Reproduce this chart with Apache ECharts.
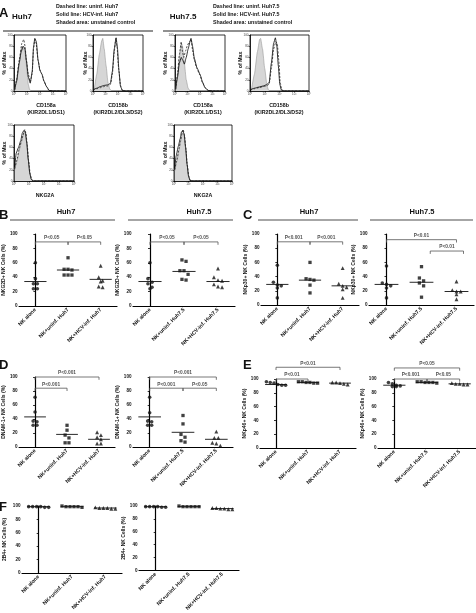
<!DOCTYPE html>
<html>
<head>
<meta charset="utf-8">
<script src="https://cdn.jsdelivr.net/npm/echarts@6/dist/echarts.min.js"></script>
<style>
html, body { margin: 0; padding: 0; background: #fff; }
#chart { width: 476px; height: 613px; }
</style>
</head>
<body>
<div id="chart"></div>
<script>
// ---- data ----
const catsHuh7 = ['NK alone', 'NK+uninf. Huh7', 'NK+HCV-inf. Huh7']
const catsHuh75 = ['NK alone', 'NK+uninf. Huh7.5', 'NK+HCV-inf. Huh7.5']
const decadeLabels = ['10⁰', '10¹', '10²', '10³', '10⁴']

// panel A histograms: [log10 intensity, % of max]
const cd158aHuh7Ctrl = [[0.05,2],[0.2,15],[0.35,40],[0.5,65],[0.6,80],[0.7,74],[0.8,78],[0.9,60],[1.0,35],[1.1,12],[1.2,3],[1.3,0]]
const cd158aHuh7Uninf = [[0.05,2],[0.2,20],[0.4,55],[0.6,85],[0.75,92],[0.85,80],[0.95,55],[1.1,30],[1.25,16],[1.4,30],[1.5,75],[1.6,92],[1.7,85],[1.85,55],[2.0,38],[2.15,30],[2.3,18],[2.5,8],[2.7,1],[3.0,0],[4,0]]
const cd158aHuh7Hcv = [[0.05,2],[0.2,18],[0.4,50],[0.55,70],[0.7,80],[0.85,75],[0.95,55],[1.1,25],[1.25,14],[1.4,35],[1.5,78],[1.6,94],[1.72,88],[1.85,55],[2.0,36],[2.15,30],[2.3,18],[2.5,8],[2.7,1],[3.0,0],[4,0]]
const cd158bHuh7Ctrl = [[0.1,3],[0.3,30],[0.5,65],[0.7,90],[0.78,94],[0.9,75],[1.05,45],[1.2,15],[1.35,3],[1.5,0]]
const cd158bHuh7Uninf = [[0,2],[0.3,4],[0.6,6],[0.9,8],[1.2,9],[1.4,12],[1.55,30],[1.7,70],[1.82,94],[1.92,80],[2.05,40],[2.2,10],[2.35,1],[2.6,0],[4,0]]
const cd158bHuh7Hcv = [[0,2],[0.3,5],[0.6,8],[0.9,10],[1.2,11],[1.4,14],[1.55,35],[1.7,75],[1.85,95],[1.95,78],[2.08,35],[2.2,8],[2.35,1],[2.6,0],[4,0]]
const cd158aHuh75Ctrl = [[0.05,2],[0.2,25],[0.35,60],[0.5,85],[0.6,80],[0.75,50],[0.9,20],[1.05,5],[1.2,0]]
const cd158aHuh75Uninf = [[0.05,3],[0.2,30],[0.35,65],[0.5,88],[0.6,70],[0.7,60],[0.85,72],[1.0,82],[1.15,88],[1.3,92],[1.42,70],[1.55,55],[1.75,40],[2.0,28],[2.2,15],[2.4,6],[2.65,1],[3,0],[4,0]]
const cd158aHuh75Hcv = [[0.05,3],[0.2,25],[0.35,50],[0.5,60],[0.62,55],[0.75,48],[0.9,60],[1.05,75],[1.2,88],[1.28,94],[1.4,80],[1.55,58],[1.75,42],[2.0,30],[2.2,16],[2.4,6],[2.65,1],[3,0],[4,0]]
const cd158bHuh75Ctrl = [[0.1,3],[0.3,30],[0.5,70],[0.65,92],[0.72,94],[0.85,75],[1.0,40],[1.15,10],[1.25,2],[1.35,0]]
const cd158bHuh75Uninf = [[0,2],[0.3,4],[0.6,6],[0.9,8],[1.1,9],[1.3,12],[1.45,40],[1.6,75],[1.75,88],[1.85,85],[1.95,55],[2.05,15],[2.15,2],[2.3,0],[4,0]]
const cd158bHuh75Hcv = [[0,2],[0.3,5],[0.6,7],[0.9,9],[1.1,11],[1.3,15],[1.45,50],[1.6,85],[1.72,95],[1.82,80],[1.92,45],[2.02,12],[2.12,2],[2.3,0],[4,0]]
const nkg2aHuh7Ctrl = [[0.05,20],[0.2,35],[0.35,55],[0.5,70],[0.6,80],[0.7,88],[0.78,85],[0.85,70],[0.95,40],[1.05,15],[1.15,3],[1.25,0]]
const nkg2aHuh7Uninf = [[0.05,22],[0.2,38],[0.35,58],[0.5,72],[0.6,82],[0.72,92],[0.8,85],[0.88,65],[0.98,35],[1.08,12],[1.18,2],[1.3,0],[4,0]]
const nkg2aHuh7Hcv = [[0.05,25],[0.15,50],[0.3,60],[0.45,72],[0.55,85],[0.65,90],[0.75,88],[0.85,68],[0.95,38],[1.05,14],[1.15,3],[1.3,0],[4,0]]
const nkg2aHuh75Ctrl = [[0.05,18],[0.2,35],[0.35,55],[0.45,70],[0.55,82],[0.62,86],[0.7,80],[0.8,60],[0.9,30],[1.0,10],[1.1,2],[1.2,0]]
const nkg2aHuh75Uninf = [[0.05,20],[0.2,38],[0.35,58],[0.45,72],[0.55,85],[0.63,92],[0.72,82],[0.82,58],[0.92,28],[1.02,8],[1.12,1],[1.25,0],[4,0]]
const nkg2aHuh75Hcv = [[0.05,22],[0.15,45],[0.3,62],[0.42,75],[0.52,88],[0.6,90],[0.7,84],[0.8,60],[0.9,30],[1.0,9],[1.1,1],[1.25,0],[4,0]]

// panels B-F: % positive NK cells per donor, [NK alone, NK+uninf, NK+HCV-inf]
const nkg2dHuh7 = [[60,38,31,31,24,24],[67,51,51,50,43,43,43],[56,40,35,34,27,26]]
const nkg2dHuh7Med = [34,50,37]
const nkg2dHuh75 = [[60,38,33,31,26,24],[64,62,49,49,44,37,36],[52,40,36,35,30,27,26]]
const nkg2dHuh75Med = [34,48,34]
const nkp30Huh7 = [[56,32,28,27,24,10],[60,37,36,35,28,17],[52,30,27,25,22,10]]
const nkp30Huh7Med = [29,35,27]
const nkp30Huh75 = [[55,31,29,27,24,10],[54,38,34,31,27,11],[33,21,19,19,15,8]]
const nkp30Huh75Med = [29,32,19]
const dnamHuh7 = [[71,50,37,36,31,31],[31,24,17,13,6,6],[21,17,14,11,5,5]]
const dnamHuh7Med = [43,18,11]
const dnamHuh75 = [[71,49,37,36,31,31],[45,33,18,14,9,7],[22,13,13,6,5,2]]
const dnamHuh75Med = [43,21,11]
const nkp46Huh7 = [[94,95,91,91,92,96],[96,95,94,94,95,96],[95,93,92,94,95]]
const nkp46Huh7Med = [92,95,94]
const nkp46Huh75 = [[90,89,95,89,93,91],[96,95,94,95,95,96],[93,92,92,93,94]]
const nkp46Huh75Med = [91,95,93]
const b2b4Huh7 = [[99,98,99,98,99,99],[99,98,99,99,99,100],[97,96,97,96,97,98]]
const b2b4Huh7Med = [99,99,97]
const b2b4Huh75 = [[99,98,99,98,99,99],[99,99,99,100,99,99],[97,95,96,95,96,97]]
const b2b4Huh75Med = [99,99,96]

// significance brackets: [from group, to group, level, text]
const nkg2dHuh7Sig = [[0,1,89,'P<0.05'],[1,2,89,'P<0.05']]
const nkg2dHuh75Sig = [[0,1,89,'P<0.05'],[1,2,89,'P<0.05']]
const nkp30Huh7Sig = [[0,1,89,'P<0.001'],[1,2,89,'P<0.001']]
const nkp30Huh75Sig = [[0,2,92,'P<0.01'],[1.25,2.2,76,'P<0.01']]
const dnamHuh7Sig = [[0,2,100,'P<0.001'],[0,1,84,'P<0.001']]
const dnamHuh75Sig = [[0,2,100,'P<0.001'],[0,1,84,'P<0.001'],[1,2,84,'P<0.05']]
const nkp46Huh7Sig = [[0,2,117,'P<0.01'],[0,1,100,'P<0.01']]
const nkp46Huh75Sig = [[0,2,116,'P<0.05'],[0,1,100,'P<0.001'],[1,2,100,'P<0.05']]

// ---- chart building ----
const FONT = '"Liberation Sans", Arial, sans-serif'
const INK = '#111'
const grids = [], xAxes = [], yAxes = [], series = [], graphics = []

const histPanel = (box, ctrl, uninf, hcv) => {
  const g = grids.length
  grids.push({ left: box[0], top: box[1], width: box[2], height: box[3], show: true, borderColor: '#000', borderWidth: 0.8 })
  const xi = xAxes.length, yi = yAxes.length
  xAxes.push({
    gridIndex: g, type: 'value', min: 0, max: 4, interval: 1,
    axisLine: { show: true, lineStyle: { color: '#000', width: 0.8 } },
    axisTick: { length: 1.5, lineStyle: { color: '#000', width: 0.6 } },
    axisLabel: { fontSize: 3, margin: 1.5, color: '#444', fontFamily: FONT, formatter: v => decadeLabels[v] },
    splitLine: { show: false }
  })
  yAxes.push({
    gridIndex: g, type: 'value', min: 0, max: 100, interval: 20,
    axisLine: { show: true, lineStyle: { color: '#000', width: 0.8 } },
    axisTick: { show: true, length: 1.5, lineStyle: { color: '#000', width: 0.6 } },
    axisLabel: { fontSize: 3, margin: 1.5, color: '#444', fontFamily: FONT },
    splitLine: { show: false }
  })
  const base = { type: 'line', xAxisIndex: xi, yAxisIndex: yi, symbol: 'none', smooth: 0.15, smoothMonotone: 'x', silent: true }
  series.push({ ...base, data: ctrl, lineStyle: { color: '#888', width: 0.5 }, areaStyle: { color: '#d6d6d6', opacity: 1 }, z: 1 })
  series.push({ ...base, data: uninf, lineStyle: { color: '#222', width: 0.8, type: [2, 1.5] }, z: 3 })
  series.push({ ...base, data: hcv, lineStyle: { color: '#000', width: 0.8 }, z: 2 })
}

// Prism-like scatter: values closer than one dot height share a row, rows are centred on the group
const ROW_GAP = 5.5
const spread = vals => {
  const order = vals.map((v, j) => j).sort((a, b) => vals[b] - vals[a])
  const rows = []
  order.forEach(j => {
    const row = rows[rows.length - 1]
    if (row && vals[row[0]] - vals[j] < ROW_GAP) row.push(j)
    else rows.push([j])
  })
  const off = new Array(vals.length).fill(0)
  rows.forEach(row => row.forEach((j, n) => { off[j] = n - (row.length - 1) / 2 }))
  return off
}

const SYMS = ['circle', 'rect', 'triangle']
const SIZES = [3.6, 3.3, 3.9]
const STEP = 0.12

const dotPanel = (box, cats, groups, meds, sig, yName, nameGap) => {
  const g = grids.length
  grids.push({ left: box[0], top: box[1], width: box[2], height: box[3] })
  // category axis carries the labels, a hidden value axis on the same span places the marks
  xAxes.push({
    gridIndex: g, type: 'category', data: cats, boundaryGap: true,
    axisLine: { show: true, lineStyle: { color: '#000', width: 1.2 } },
    axisTick: { show: false },
    axisLabel: { rotate: 45, interval: 0, fontSize: 5.3, fontWeight: 'bold', color: INK, margin: 3, fontFamily: FONT }
  })
  const xi = xAxes.length
  xAxes.push({ gridIndex: g, type: 'value', min: -0.5, max: cats.length - 0.5, show: false })
  const yi = yAxes.length
  yAxes.push({
    gridIndex: g, type: 'value', min: 0, max: 100, interval: 20,
    name: yName, nameLocation: 'middle', nameGap: nameGap,
    nameTextStyle: { fontSize: 5, fontWeight: 'bold', color: INK, fontFamily: FONT },
    axisLine: { show: true, lineStyle: { color: '#000', width: 1.2 } },
    axisTick: { show: true, length: 2, lineStyle: { color: '#000', width: 0.8 } },
    axisLabel: { fontSize: 4.6, fontWeight: 'bold', margin: 1.5, color: INK, fontFamily: FONT },
    splitLine: { show: false }
  })
  const ax = { xAxisIndex: xi, yAxisIndex: yi }
  groups.forEach((vals, i) => {
    const ks = spread(vals)
    series.push({
      type: 'scatter', ...ax, clip: false,
      symbol: SYMS[i], symbolSize: SIZES[i], itemStyle: { color: INK },
      data: vals.map((v, j) => [i + ks[j] * STEP, v]), z: 3
    })
    series.push({
      type: 'line', ...ax, symbol: 'none', silent: true,
      data: [[i - 0.34, meds[i]], [i + 0.34, meds[i]]],
      lineStyle: { color: INK, width: 0.9 }, z: 2
    })
  })
  sig.forEach(([a, b, lv, t]) => {
    series.push({
      type: 'line', ...ax, symbol: 'none', clip: false, silent: true,
      data: [[a, lv - 4], [a, lv], [b, lv], [b, lv - 4]],
      lineStyle: { color: '#555', width: 0.8 }
    })
    series.push({
      type: 'scatter', ...ax, clip: false, silent: true,
      symbolSize: 1, itemStyle: { color: 'rgba(0,0,0,0)' },
      data: [[(a + b) / 2, lv]],
      label: { show: true, position: 'top', distance: 1, formatter: t, fontSize: 4.8, fontWeight: 'bold', color: '#222', fontFamily: FONT }
    })
  })
}

const txt = (x, y, s, size, extra = {}, align = 'center') => {
  graphics.push({
    type: 'text', x, y, ...extra,
    style: { text: s, font: `bold ${size}px ${FONT}`, fill: INK, align, verticalAlign: 'middle' }
  })
}
const rule = (x1, x2, y, color, w) => {
  graphics.push({ type: 'line', shape: { x1, y1: y, x2, y2: y }, style: { stroke: color, lineWidth: w } })
}

// panel A
histPanel([14, 35, 52, 56], cd158aHuh7Ctrl, cd158aHuh7Uninf, cd158aHuh7Hcv)
histPanel([93, 35, 50, 56], cd158bHuh7Ctrl, cd158bHuh7Uninf, cd158bHuh7Hcv)
histPanel([175, 35, 50, 56], cd158aHuh75Ctrl, cd158aHuh75Uninf, cd158aHuh75Hcv)
histPanel([250, 35, 59, 56], cd158bHuh75Ctrl, cd158bHuh75Uninf, cd158bHuh75Hcv)
histPanel([14, 125, 60, 56], nkg2aHuh7Ctrl, nkg2aHuh7Uninf, nkg2aHuh7Hcv)
histPanel([174, 125, 58, 56], nkg2aHuh75Ctrl, nkg2aHuh75Uninf, nkg2aHuh75Hcv)

// panels B-F
dotPanel([15, 234, 102, 72], catsHuh7, nkg2dHuh7, nkg2dHuh7Med, nkg2dHuh7Sig, 'NKG2D+ NK Cells (%)', 9)
dotPanel([133, 234, 102, 72], catsHuh75, nkg2dHuh75, nkg2dHuh75Med, nkg2dHuh75Sig, 'NKG2D+ NK Cells (%)', 10)
dotPanel([261, 234, 98, 71], catsHuh7, nkp30Huh7, nkp30Huh7Med, nkp30Huh7Sig, 'NKp30+ NK Cells (%)', 11)
dotPanel([369, 234, 105, 71], catsHuh75, nkp30Huh75, nkp30Huh75Med, nkp30Huh75Sig, 'NKp30+ NK Cells (%)', 10)
dotPanel([15, 377, 100, 70], catsHuh7, dnamHuh7, dnamHuh7Med, dnamHuh7Sig, 'DNAM-1+ NK Cells (%)', 9)
dotPanel([133, 377, 100, 70], catsHuh75, dnamHuh75, dnamHuh75Med, dnamHuh75Sig, 'DNAM-1+ NK Cells (%)', 6)
dotPanel([260, 379, 96, 69], catsHuh7, nkp46Huh7, nkp46Huh7Med, nkp46Huh7Sig, 'NKp46+ NK Cells (%)', 12)
dotPanel([378, 379, 98, 69], catsHuh75, nkp46Huh75, nkp46Huh75Med, nkp46Huh75Sig, 'NKp46+ NK Cells (%)', 13)
dotPanel([22, 506, 100, 67], catsHuh7, b2b4Huh7, b2b4Huh7Med, [], '2B4+ NK Cells (%)', 15)
dotPanel([139, 506, 100, 67], catsHuh75, b2b4Huh75, b2b4Huh75Med, [], '2B4+ NK Cells (%)', 12)

// titles, legend text, captions
txt(-1, 13, 'A', 13, {}, 'left')
txt(22, 17, 'Huh7', 8)
txt(56, 7, 'Dashed line: uninf. Huh7', 5.3, {}, 'left')
txt(56, 15, 'Solid line: HCV-inf. Huh7', 5.3, {}, 'left')
txt(56, 23, 'Shaded area: unstained control', 5.3, {}, 'left')
txt(183, 17, 'Huh7.5', 8)
txt(213, 7, 'Dashed line: uninf. Huh7.5', 5.3, {}, 'left')
txt(213, 15, 'Solid line: HCV-inf. Huh7.5', 5.3, {}, 'left')
txt(213, 23, 'Shaded area: unstained control', 5.3, {}, 'left')
rule(3, 153, 31, '#222', 1)
rule(163, 310, 31, '#222', 1)
;[[5, 63], [86, 63], [166, 63], [241, 63], [5, 153], [166, 153]].forEach(([x, y]) => txt(x, y, '% of Max', 5.3, { rotation: Math.PI / 2 }))
txt(46, 106, 'CD158a', 5.3); txt(46, 113, '(KIR2DL1/DS1)', 5.3)
txt(118, 106, 'CD158b', 5.3); txt(118, 113, '(KIR2DL2/DL3/DS2)', 5.3)
txt(203, 106, 'CD158a', 5.3); txt(203, 113, '(KIR2DL1/DS1)', 5.3)
txt(279, 106, 'CD158b', 5.3); txt(279, 113, '(KIR2DL2/DL3/DS2)', 5.3)
txt(45, 196, 'NKG2A', 5.3)
txt(203, 196, 'NKG2A', 5.3)

txt(-1, 215, 'B', 13, {}, 'left')
txt(66, 212, 'Huh7', 7.5)
txt(199, 212, 'Huh7.5', 7.5)
rule(10, 115, 220, '#888', 1.3)
rule(128, 233, 220, '#888', 1.3)
txt(243, 215, 'C', 13, {}, 'left')
txt(309, 212, 'Huh7', 7.5)
txt(422, 212, 'Huh7.5', 7.5)
rule(258, 358, 220, '#888', 1.3)
rule(370, 473, 220, '#888', 1.3)
txt(-1, 365, 'D', 13, {}, 'left')
txt(243, 365, 'E', 13, {}, 'left')
txt(-1, 507, 'F', 13, {}, 'left')

const chart = echarts.init(document.getElementById('chart'))
chart.setOption({
  animation: false,
  backgroundColor: '#fff',
  textStyle: { fontFamily: FONT },
  grid: grids,
  xAxis: xAxes,
  yAxis: yAxes,
  series: series,
  graphic: graphics
})
</script>
</body>
</html>
